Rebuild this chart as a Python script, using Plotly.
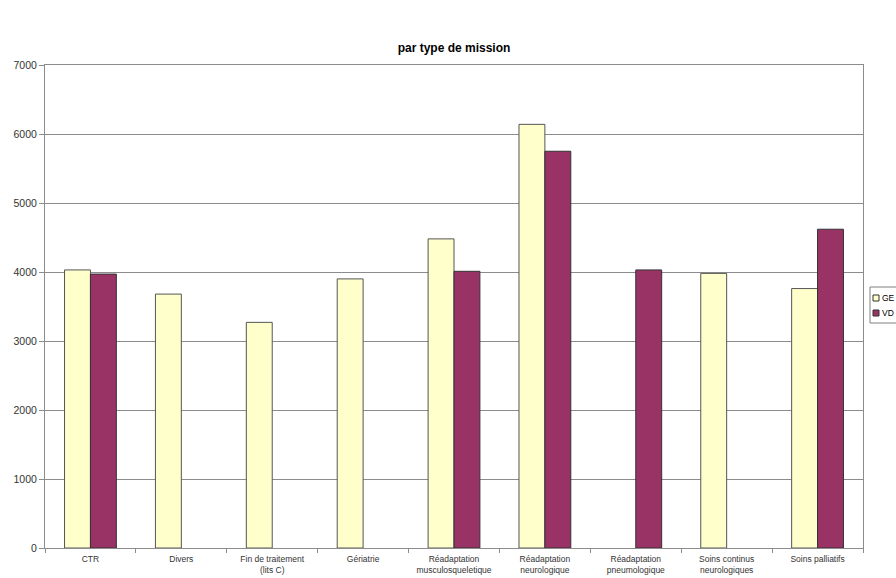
import plotly.graph_objects as go

categories = [
    "CTR",
    "Divers",
    "Fin de traitement<br>(lits C)",
    "Gériatrie",
    "Réadaptation<br>musculosqueletique",
    "Réadaptation<br>neurologique",
    "Réadaptation<br>pneumologique",
    "Soins continus<br>neurologiques",
    "Soins palliatifs",
]
ge_values = [4030, 3680, 3270, 3900, 4480, 6140, None, 3980, 3760]
vd_values = [3970, None, None, None, 4010, 5750, 4030, None, 4620]
y_ticks = [0, 1000, 2000, 3000, 4000, 5000, 6000, 7000]
series = [
    ("GE", ge_values, "#FFFFCC", "#555555"),
    ("VD", vd_values, "#993366", "#333333"),
]

font_family = "Liberation Sans, Arial, sans-serif"
grid_grey = "#8c8c8c"

W, H = 896, 578
L, R, T, B = 45, 33, 65, 30
plot_w, plot_h = W - L - R, H - T - B


def px_x(px):
    return (px - L) / plot_w


def px_y(py):
    return (H - B - py) / plot_h


fig = go.Figure()
for name, values, fill, edge in series:
    fig.add_trace(go.Bar(
        name=name, x=categories, y=values,
        marker=dict(color=fill, line=dict(color=edge, width=1)),
    ))

# Legend box at the right edge, drawn by hand so the swatches stay small
shapes = [dict(
    type="rect", xref="paper", yref="paper",
    x0=px_x(870), x1=px_x(905), y0=px_y(323), y1=px_y(287),
    line=dict(color="#808080", width=1), fillcolor="white", layer="above",
)]
annotations = []
for i, (name, values, fill, edge) in enumerate(series):
    cy = 298 + 15 * i
    shapes.append(dict(
        type="rect", xref="paper", yref="paper",
        x0=px_x(873), x1=px_x(879), y0=px_y(cy + 3), y1=px_y(cy - 3),
        line=dict(color="#333333", width=1), fillcolor=fill, layer="above",
    ))
    annotations.append(dict(
        text=name, xref="paper", yref="paper",
        x=px_x(880), y=px_y(cy), xanchor="left", yanchor="middle",
        showarrow=False,
        font=dict(family=font_family, size=8.5, color="#000000"),
    ))

fig.update_layout(
    width=W, height=H,
    margin=dict(l=L, r=R, t=T, b=B, autoexpand=False),
    paper_bgcolor="white", plot_bgcolor="white",
    barmode="group", bargap=0.43, bargroupgap=0,
    font=dict(family=font_family, size=9, color="#333333"),
    title=dict(
        text="<b>par type de mission</b>",
        x=0.5, xref="paper", xanchor="center",
        y=1 - 48 / H, yref="container", yanchor="middle",
        font=dict(family=font_family, size=12, color="#000000"),
    ),
    showlegend=False,
    shapes=shapes,
    annotations=annotations,
)

fig.update_xaxes(
    showline=True, linecolor=grid_grey, linewidth=1, mirror=True,
    ticks="outside", ticklen=4, tickcolor=grid_grey, tickson="boundaries",
    ticklabelstandoff=3,
    showgrid=False,
    tickfont=dict(family=font_family, size=8.5, color="#333333"),
)
fig.update_yaxes(
    range=[0, 7000], tickvals=y_ticks,
    showline=True, linecolor=grid_grey, linewidth=1, mirror=True,
    ticks="outside", ticklen=5, tickcolor=grid_grey,
    showgrid=True, gridcolor=grid_grey, gridwidth=1,
    zeroline=False,
    tickfont=dict(family=font_family, size=10.5, color="#333333"),
)

fig.write_html("out.html")
